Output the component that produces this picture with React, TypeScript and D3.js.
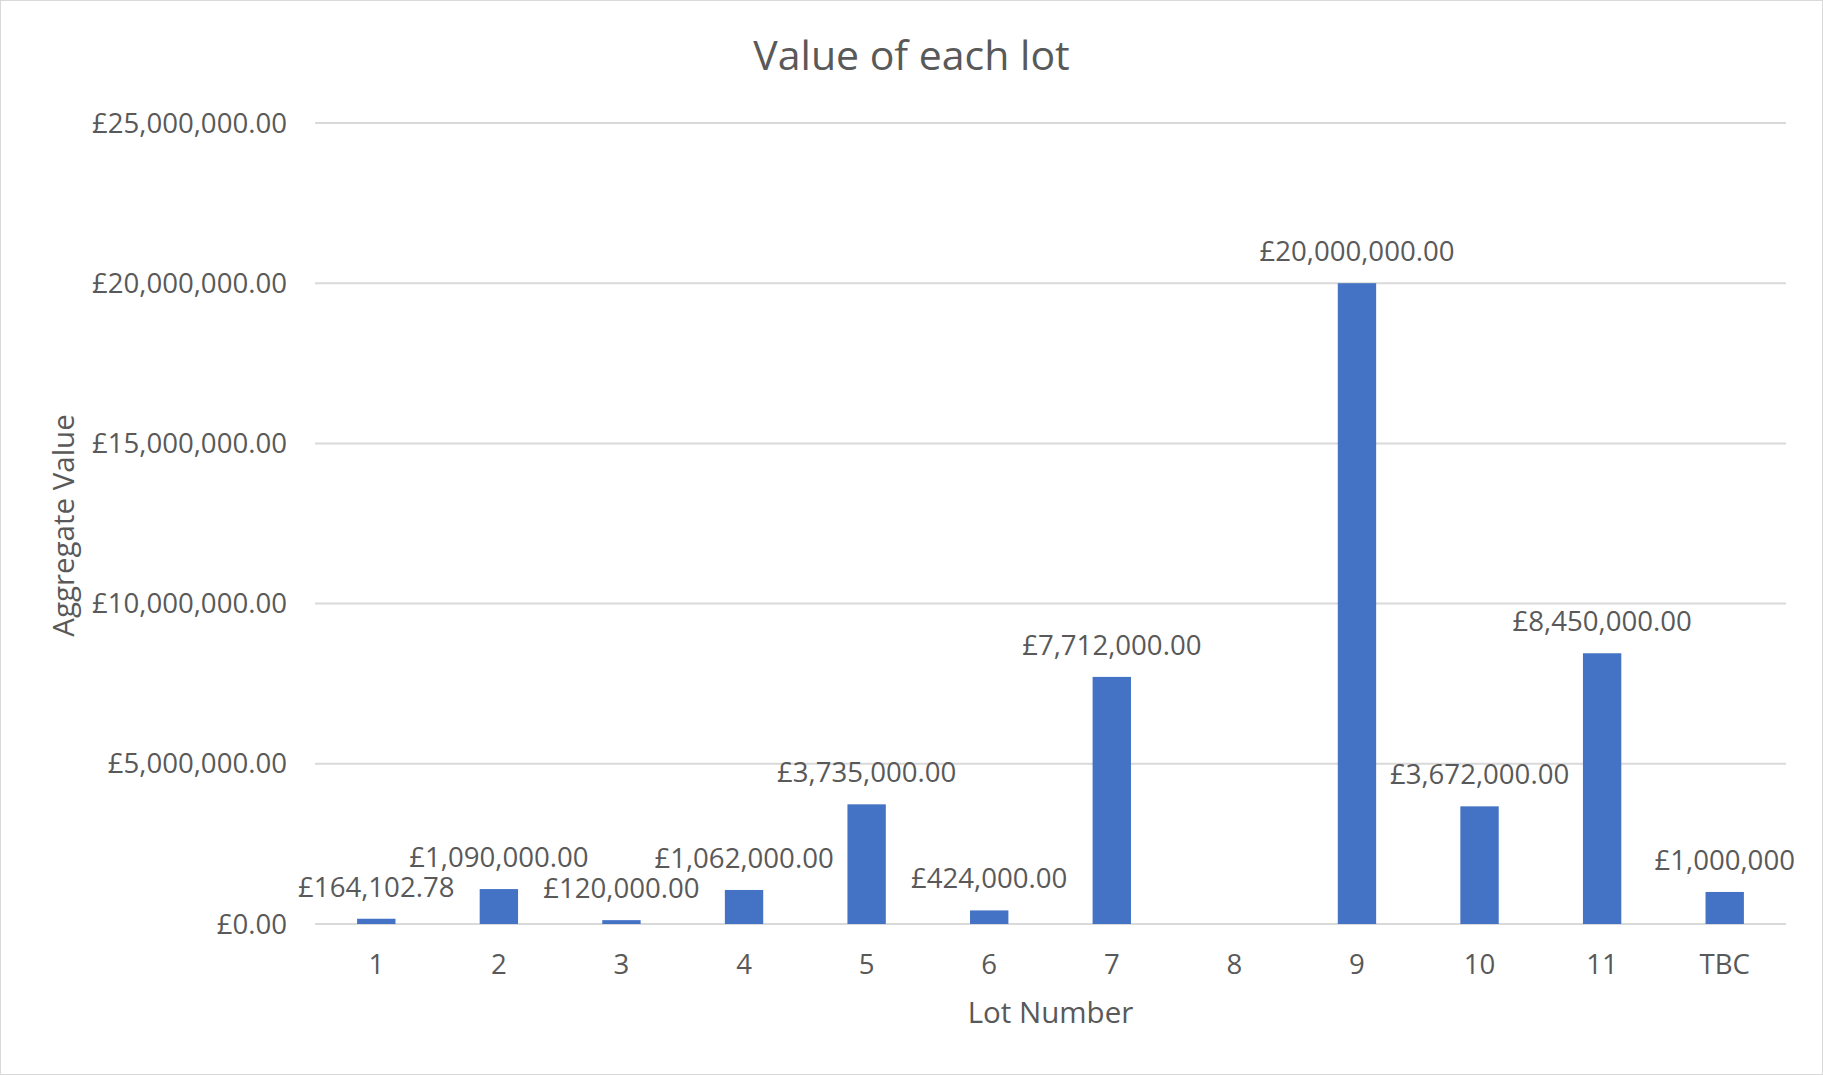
import React, { useEffect, useRef } from 'react';
import * as d3 from 'd3';

// lot categories and their values (lot 8 has no value)
const lots = ['1', '2', '3', '4', '5', '6', '7', '8', '9', '10', '11', 'TBC'];
const values = [164102.78, 1090000, 120000, 1062000, 3735000, 424000, 7712000, null, 20000000, 3672000, 8450000, 1000000];
const valueLabels = ['£164,102.78', '£1,090,000.00', '£120,000.00', '£1,062,000.00', '£3,735,000.00', '£424,000.00', '£7,712,000.00', '', '£20,000,000.00', '£3,672,000.00', '£8,450,000.00', '£1,000,000'];
const yTicks = [0, 5000000, 10000000, 15000000, 20000000, 25000000];

function BarChart() {
    const ref = useRef<SVGSVGElement>(null);
    const width = 1823;
    const height = 1075;
    const margin = { top: 123, right: 37, bottom: 151, left: 315 };
    const font = '"Open Sans", "Noto Sans", sans-serif';
    const textColor = '#595959';
    const labelSize = '27.6px';

    useEffect(() => {
        const svg = d3.select(ref.current);
        svg.selectAll('*').remove();

        const x = d3
            .scaleBand()
            .domain(lots)
            .range([margin.left, width - margin.right])
            .paddingInner(0.687)
            .paddingOuter(0.3435);

        const y = d3
            .scaleLinear()
            .domain([0, 25000000])
            .range([height - margin.bottom, margin.top]);

        // background + border
        svg.append('rect')
            .attr('x', 0.5)
            .attr('y', 0.5)
            .attr('width', width - 1)
            .attr('height', height - 1)
            .style('fill', '#ffffff')
            .style('stroke', '#d9d9d9');

        // gridlines
        svg.append('g')
            .selectAll('line')
            .data(yTicks)
            .enter()
            .append('line')
            .attr('x1', margin.left)
            .attr('x2', width - margin.right)
            .attr('y1', (d) => y(d))
            .attr('y2', (d) => y(d))
            .style('stroke', '#d9d9d9')
            .style('stroke-width', 2);

        // y tick labels
        const fmt = d3.format(',.2f');
        svg.append('g')
            .selectAll('text')
            .data(yTicks)
            .enter()
            .append('text')
            .attr('x', margin.left - 28)
            .attr('y', (d) => y(d))
            .attr('dy', '0.35em')
            .attr('text-anchor', 'end')
            .style('font-family', font)
            .style('font-size', labelSize)
            .style('fill', textColor)
            .text((d) => '£' + fmt(d));

        const rows = lots.map((lot, i) => ({ lot, value: values[i], label: valueLabels[i] }));

        // bars
        svg.append('g')
            .selectAll('rect')
            .data(rows.filter((d) => d.value !== null))
            .enter()
            .append('rect')
            .attr('x', (d) => x(d.lot))
            .attr('width', x.bandwidth())
            .attr('y', (d) => y(d.value))
            .attr('height', (d) => y(0) - y(d.value))
            .style('fill', '#4472c4');

        // data labels
        svg.append('g')
            .selectAll('text')
            .data(rows.filter((d) => d.value !== null))
            .enter()
            .append('text')
            .attr('x', (d) => x(d.lot) + x.bandwidth() / 2)
            .attr('y', (d) => y(d.value) - 22)
            .attr('text-anchor', 'middle')
            .style('font-family', font)
            .style('font-size', labelSize)
            .style('fill', textColor)
            .text((d) => d.label);

        // category labels
        svg.append('g')
            .selectAll('text')
            .data(lots)
            .enter()
            .append('text')
            .attr('x', (d) => x(d) + x.bandwidth() / 2)
            .attr('y', height - margin.bottom + 40)
            .attr('dy', '0.35em')
            .attr('text-anchor', 'middle')
            .style('font-family', font)
            .style('font-size', labelSize)
            .style('fill', textColor)
            .text((d) => d);

        // title
        svg.append('text')
            .attr('x', width / 2)
            .attr('y', 56)
            .attr('dy', '0.35em')
            .attr('text-anchor', 'middle')
            .style('font-family', font)
            .style('font-size', '41px')
            .style('fill', textColor)
            .text('Value of each lot');

        // axis titles
        svg.append('text')
            .attr('x', (margin.left + width - margin.right) / 2)
            .attr('y', 1013)
            .attr('dy', '0.35em')
            .attr('text-anchor', 'middle')
            .style('font-family', font)
            .style('font-size', '29.5px')
            .style('fill', textColor)
            .text('Lot Number');

        svg.append('text')
            .attr('transform', `translate(64, ${(margin.top + height - margin.bottom) / 2 + 2}) rotate(-90)`)
            .attr('dy', '0.35em')
            .attr('text-anchor', 'middle')
            .style('font-family', font)
            .style('font-size', '29.5px')
            .style('fill', textColor)
            .text('Aggregate Value');
    }, []);

    return <svg ref={ref} width={width} height={height} style={{ position: 'absolute', left: 0, top: 0 }} />;
}

export default function App() {
    return <BarChart />;
}
